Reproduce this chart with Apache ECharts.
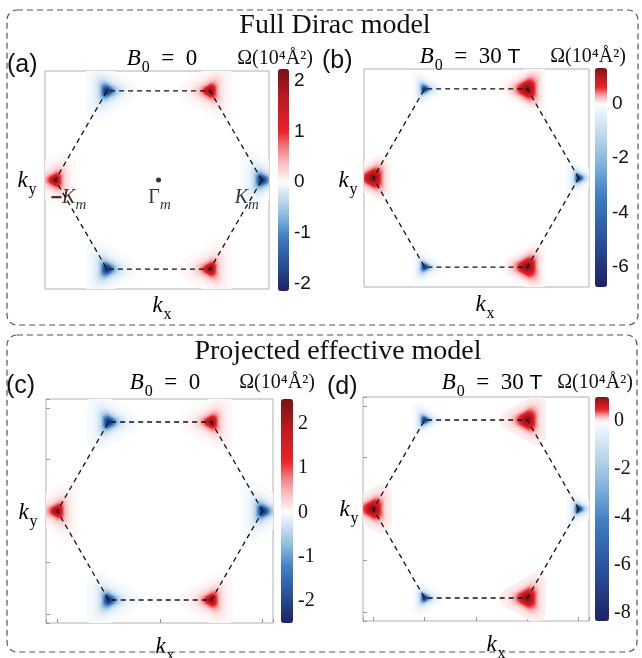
<!DOCTYPE html>
<html>
<head>
<meta charset="utf-8">
<script src="https://cdn.jsdelivr.net/npm/echarts@6/dist/echarts.min.js"></script>
<style>
  html, body { margin: 0; background: #fff; }
  #chart { width: 642px; height: 658px; }
</style>
</head>
<body>
<div id="chart"></div>
<script>
// corners of the moire Brillouin zone (units of |K_m|)
const cornerKx = [1, 0.5, -0.5, -1, -0.5, 0.5];
const cornerKy = [0, 0.866, 0.866, 0, -0.866, -0.866];

// Berry curvature at each corner, 10^4 A^2
const peakA = [-2.15, 2.2, -2.15, 2.2, -2.15, 2.2];
const peakB = [-6.7, 1.3, -6.7, 1.3, -6.7, 1.3];
const peakC = [-2.49, 2.55, -2.49, 2.55, -2.49, 2.55];
const peakD = [-8.3, 1.0, -8.3, 1.0, -8.3, 1.0];

// colour bar ranges and tick labels
const rangeA = [-2.15, 2.23];
const rangeB = [-6.74, 1.31];
const rangeC = [-2.49, 2.55];
const rangeD = [-8.33, 1.0];
const ticksA = [-2, -1, 0, 1, 2];
const ticksB = [-6, -4, -2, 0];
const ticksC = [-2, -1, 0, 1, 2];
const ticksD = [-8, -6, -4, -2, 0];

const panelTags = ['(a)', '(b)', '(c)', '(d)'];
const fieldTexts = ['0', '30 T', '0', '30 T'];
const sectionTitles = ['Full Dirac model', 'Projected effective model'];

const serif = 'Liberation Serif';
const sans = 'Liberation Sans';

// filled contour levels, as fractions of each peak
const levels = [0.015, 0.03, 0.05, 0.08, 0.12, 0.17, 0.23, 0.3, 0.38, 0.47, 0.56, 0.65, 0.74, 0.83, 0.91, 0.97];

const redStops = [[0, '#ffffff'], [0.06, '#fce4e4'], [0.18, '#f8b9bb'], [0.32, '#f27478'], [0.45, '#eb2027'], [0.72, '#bf1b20'], [1, '#7b1015']];
const blueStops = [[0, '#ffffff'], [0.06, '#e4eff8'], [0.18, '#bcd6ec'], [0.32, '#86b5dd'], [0.5, '#3f7fc2'], [0.75, '#28509a'], [1, '#1d2364']];

function hex2rgb(h) {
  return [1, 3, 5].map((i) => parseInt(h.slice(i, i + 2), 16));
}
function pick(stops, t) {
  for (let i = 1; i < stops.length; i++) {
    if (t <= stops[i][0]) {
      const u = (t - stops[i - 1][0]) / (stops[i][0] - stops[i - 1][0]);
      const a = hex2rgb(stops[i - 1][1]);
      const b = hex2rgb(stops[i][1]);
      return 'rgb(' + a.map((v, k) => Math.round(v + (b[k] - v) * u)).join(',') + ')';
    }
  }
  return stops[stops.length - 1][1];
}
function colorList(range) {
  const out = [];
  const n = 81;
  for (let i = 0; i < n; i++) {
    const v = range[0] + (range[1] - range[0]) * i / (n - 1);
    out.push(v < 0 ? pick(blueStops, v / range[0]) : pick(redStops, v / range[1]));
  }
  return out;
}

const panels = [
  { peaks: peakA, range: rangeA, ticks: ticksA, grid: { left: 45, top: 71, width: 224, height: 218 },
    xr: [-1.1, 1.07], yr: [-1.06, 1.06], bar: { left: 278, top: 69, w: 11, h: 222 },
    blob: { pos: { w: 8, n: 1.5 }, neg: { w: 8, n: 1.5 } }, inTicks: false, cbFont: sans,
    tag: [7, 65], field: [162, 59], unit: [275, 59], ky: [27, 181], kx: [162, 306] },
  { peaks: peakB, range: rangeB, ticks: ticksB, grid: { left: 364, top: 69, width: 225, height: 218 },
    xr: [-1.09, 1.1], yr: [-1.06, 1.06], bar: { left: 595, top: 68, w: 12, h: 219 },
    blob: { pos: { w: 20, n: 4 }, neg: { w: 5, n: 1.5 } }, inTicks: false, cbFont: sans,
    tag: [322, 61], field: [470, 57], unit: [588, 57], ky: [348, 181], kx: [485, 305] },
  { peaks: peakC, range: rangeC, ticks: ticksC, grid: { left: 46, top: 399, width: 227, height: 224 },
    xr: [-1.11, 1.1], yr: [-1.09, 1.09], bar: { left: 281, top: 399, w: 12, h: 224 },
    blob: { pos: { w: 8, n: 1.5 }, neg: { w: 8, n: 1.5 } }, inTicks: true, cbFont: serif,
    tag: [6, 386], field: [165, 383], unit: [277, 383], ky: [28, 513], kx: [165, 647] },
  { peaks: peakD, range: rangeD, ticks: ticksD, grid: { left: 363, top: 397, width: 226, height: 224 },
    xr: [-1.1, 1.1], yr: [-1.09, 1.09], bar: { left: 595, top: 397, w: 14, h: 224 },
    blob: { pos: { w: 20, n: 4 }, neg: { w: 5, n: 1.5 } }, inTicks: true, cbFont: serif,
    tag: [327, 387], field: [492, 383], unit: [595, 383], ky: [349, 510], kx: [496, 645] }
];

// each contour is a rounded triangle with one tip pointing away from the zone centre
function hotspotRenderer(p) {
  return function (params, api) {
    const h = Math.floor(params.dataIndex / levels.length);
    const f = levels[params.dataIndex % levels.length];
    const x = api.value(0);
    const y = api.value(1);
    const c = api.coord([x, y]);
    const sp = p.peaks[h] > 0 ? p.blob.pos : p.blob.neg;
    const s = sp.w * Math.sqrt(Math.pow(f, -1 / sp.n) - 1);
    const tau = 0.65 * Math.pow(1 - f, 0.8);
    const q = tau * s;
    const rho = (1 - tau) * s;
    const phi = Math.atan2(y, x);
    const pts = [];
    for (let k = 0; k < 3; k++) {
      const ang = phi + k * 2 * Math.PI / 3;
      const vx = c[0] + q * Math.cos(ang);
      const vy = c[1] - q * Math.sin(ang);
      for (let j = 0; j <= 16; j++) {
        const t = ang - Math.PI / 3 + j / 16 * 2 * Math.PI / 3;
        pts.push([vx + rho * Math.cos(t), vy - rho * Math.sin(t)]);
      }
    }
    return { type: 'polygon', shape: { points: pts }, style: { fill: api.visual('color') } };
  };
}

const mathRich = {
  i: { fontFamily: serif, fontStyle: 'italic', fontSize: 23, color: '#111' },
  s: { fontFamily: serif, fontSize: 16, color: '#111', padding: [18, 0, 0, 1] },
  t: { fontFamily: serif, fontSize: 23, color: '#111' },
  u: { fontFamily: sans, fontSize: 21, color: '#111' },
  g: { fontFamily: serif, fontSize: 20, color: '#000' },
  gs: { fontFamily: serif, fontStyle: 'italic', fontSize: 15, color: '#000', padding: [15, 0, 0, 0] },
  k: { fontFamily: serif, fontStyle: 'italic', fontSize: 20, color: '#000' },
  m: { fontFamily: sans, fontWeight: 'bold', fontSize: 20, color: '#000' }
};

const grids = [];
const xAxes = [];
const yAxes = [];
const series = [];
const visualMaps = [];
const graphics = [];

panels.forEach((p, i) => {
  grids.push({ left: p.grid.left, top: p.grid.top, width: p.grid.width, height: p.grid.height,
    show: true, borderColor: '#b0b0b0', borderWidth: 1, backgroundColor: '#fff' });
  const tick = { show: p.inTicks, inside: true, length: 4, lineStyle: { color: '#999' } };
  xAxes.push({ type: 'value', gridIndex: i, min: p.xr[0], max: p.xr[1], splitNumber: 4,
    axisLine: { show: false, onZero: false }, axisLabel: { show: false }, splitLine: { show: false }, axisTick: tick });
  yAxes.push({ type: 'value', gridIndex: i, min: p.yr[0], max: p.yr[1], splitNumber: 4,
    axisLine: { show: false, onZero: false }, axisLabel: { show: false }, splitLine: { show: false }, axisTick: tick });

  const data = [];
  p.peaks.forEach((pk, h) => {
    levels.forEach((f) => data.push([cornerKx[h], cornerKy[h], f * pk]));
  });
  visualMaps.push({
    type: 'continuous', seriesIndex: series.length, dimension: 2,
    min: p.range[0], max: p.range[1], orient: 'vertical',
    left: p.bar.left, top: p.bar.top, itemWidth: p.bar.w, itemHeight: p.bar.h,
    padding: 0, calculable: false, hoverLink: false, text: null,
    inRange: { color: colorList(p.range) }
  });
  series.push({ type: 'custom', xAxisIndex: i, yAxisIndex: i, clip: true, silent: true,
    dimensions: ['kx', 'ky', 'omega'], encode: { x: 0, y: 1 },
    renderItem: hotspotRenderer(p), data: data, z: 2 });

  const hex = cornerKx.map((v, h) => [v, cornerKy[h]]);
  hex.push(hex[0]);
  series.push({ type: 'line', xAxisIndex: i, yAxisIndex: i, data: hex, symbol: 'none', silent: true,
    lineStyle: { color: '#111', width: 1.3, type: [5, 4] }, z: 4 });

  graphics.push({ type: 'text', x: p.tag[0], y: p.tag[1],
    style: { text: panelTags[i], font: '25px ' + sans, fill: '#111', align: 'left', verticalAlign: 'middle' } });
  const field = fieldTexts[i] === '0' ? '{i|B}{s|0}{t|  =  0}' : '{i|B}{s|0}{t|  =  30 }{u|T}';
  graphics.push({ type: 'text', x: p.field[0], y: p.field[1],
    style: { text: field, rich: mathRich, align: 'center', verticalAlign: 'middle' } });
  graphics.push({ type: 'text', x: p.unit[0], y: p.unit[1],
    style: { text: 'Ω(10⁴Å²)', font: '20px ' + serif, fill: '#111', align: 'center', verticalAlign: 'middle' } });
  graphics.push({ type: 'text', x: p.ky[0], y: p.ky[1],
    style: { text: '{i|k}{s|y}', rich: mathRich, align: 'center', verticalAlign: 'middle' } });
  graphics.push({ type: 'text', x: p.kx[0], y: p.kx[1],
    style: { text: '{i|k}{s|x}', rich: mathRich, align: 'center', verticalAlign: 'middle' } });
});

// colour bar tick labels
panels.forEach((p, i) => {
  const g = grids.length;
  grids.push({ left: p.bar.left, top: p.bar.top, width: p.bar.w, height: p.bar.h });
  xAxes.push({ type: 'value', gridIndex: g, min: 0, max: 1, show: false });
  yAxes.push({ type: 'value', gridIndex: g, min: p.range[0], max: p.range[1], position: 'right',
    axisLine: { show: false }, axisTick: { show: false }, splitLine: { show: false },
    axisLabel: { customValues: p.ticks, margin: 5, fontSize: p.cbFont === sans ? 19 : 20,
      fontFamily: p.cbFont, color: '#111' } });
  series.push({ type: 'scatter', xAxisIndex: g, yAxisIndex: g, data: [] });
});

// Gamma point and K labels in panel (a)
series.push({ type: 'scatter', xAxisIndex: 0, yAxisIndex: 0, data: [[0, 0]], symbolSize: 5,
  itemStyle: { color: '#000' }, z: 5, silent: true,
  label: { show: true, position: 'inside', offset: [1, 18], formatter: '{g|Γ}{gs|m}', rich: mathRich } });
series.push({ type: 'scatter', xAxisIndex: 0, yAxisIndex: 0, symbolSize: 0, z: 5, silent: true,
  data: [
    { value: [cornerKx[0], cornerKy[0]], label: { offset: [-15, 18], formatter: '{k|K}{gs|m}' } },
    { value: [cornerKx[3], cornerKy[3]], label: { offset: [13, 18], formatter: '{m|−}{k|K}{gs|m}' } }
  ],
  label: { show: true, position: 'inside', rich: mathRich } });

// section titles and dashed frames
graphics.push({ type: 'rect', shape: { x: 7, y: 10, width: 631, height: 315, r: 10 },
  style: { fill: 'none', stroke: '#555', lineWidth: 1.2, lineDash: [6, 4] } });
graphics.push({ type: 'rect', shape: { x: 7, y: 335, width: 630, height: 317, r: 10 },
  style: { fill: 'none', stroke: '#555', lineWidth: 1.2, lineDash: [6, 4] } });
graphics.push({ type: 'text', x: 335, y: 26,
  style: { text: sectionTitles[0], font: '28px ' + serif, fill: '#111', align: 'center', verticalAlign: 'middle' } });
graphics.push({ type: 'text', x: 338, y: 352,
  style: { text: sectionTitles[1], font: '28px ' + serif, fill: '#111', align: 'center', verticalAlign: 'middle' } });

const chart = echarts.init(document.getElementById('chart'), null, { renderer: 'canvas' });
chart.setOption({
  animation: false,
  backgroundColor: '#fff',
  grid: grids,
  xAxis: xAxes,
  yAxis: yAxes,
  visualMap: visualMaps,
  series: series,
  graphic: graphics
});
</script>
</body>
</html>
